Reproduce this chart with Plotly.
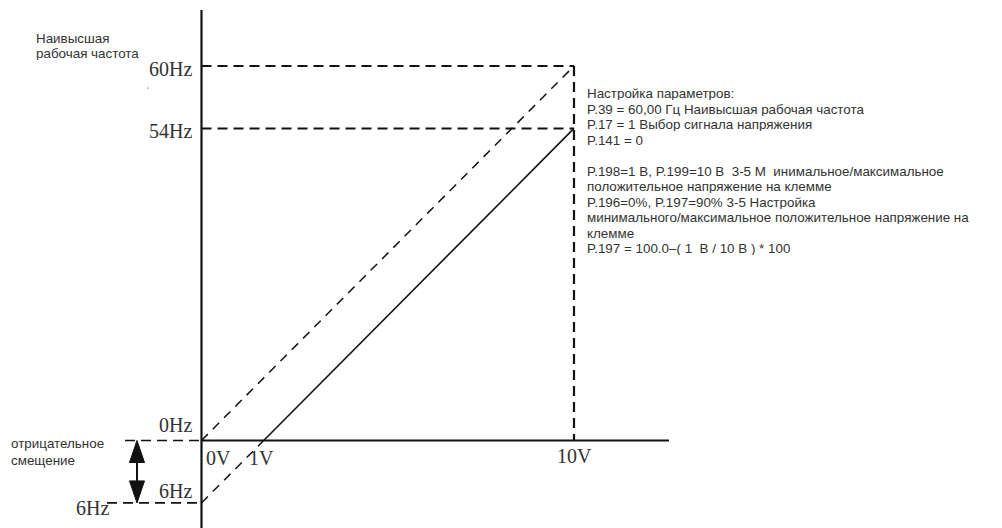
import plotly.graph_objects as go

# ---- values (drawn positions) ----
volt_labels = ["0V", "1V", "10V"]
volt_pos = [0.0, 1.67, 10.0]          # where the V marks sit on the schematic axis
freq_labels = ["60Hz", "54Hz", "0Hz", "6Hz"]
freq_pos = [60.0, 50.0, 0.0, -10.0]   # where the Hz levels sit on the schematic axis

# solid characteristic: 1V -> 54Hz at 10V
solid_x = [1.67, 10.0]
solid_y = [0.0, 50.0]
# dashed characteristic without offset: 0V/0Hz -> 10V/60Hz
dash_up_x = [0.0, 10.0]
dash_up_y = [0.0, 60.0]
# dashed extension below zero: 0V/-6Hz -> 1V/0Hz
dash_low_x = [0.0, 1.67]
dash_low_y = [-10.0, 0.0]

left_title = ["Наивысшая", "рабочая частота"]
offset_title = ["отрицательное", "смещение"]
params_lines = [
    "Настройка параметров:",
    "P.39 = 60,00 Гц Наивысшая рабочая частота",
    "P.17 = 1 Выбор сигнала напряжения",
    "P.141 = 0",
    "",
    "P.198=1 В, P.199=10 В  3-5 М  инимальное/максимальное",
    "положительное напряжение на клемме",
    "P.196=0%, P.197=90% 3-5 Настройка",
    "минимального/максимальное положительное напряжение на",
    "клемме",
    "P.197 = 100.0–( 1  В / 10 В ) * 100",
]

# ---- layout geometry (pixels of the 1002x528 window) ----
PAGE_OFF = 8            # default body margin of the html page
W, H = 1002 - PAGE_OFF, 528 - PAGE_OFF
X0, XS = 201.5, 37.25   # window px of 0V, px per V
Y0, YS = 440.5, 6.242   # window px of 0Hz, px per Hz


def vx(px):
    return (px - X0) / XS


def vy(py):
    return (Y0 - py) / YS


SERIF = "Liberation Serif, Times New Roman, serif"
SANS = "Liberation Sans, Arial, sans-serif"
INK = "#111111"
TXT = "#333333"

fig = go.Figure()


def line(xs, ys, width=2.0, dash=None):
    fig.add_trace(go.Scatter(x=xs, y=ys, mode="lines", hoverinfo="skip",
                             line=dict(color=INK, width=width, dash=dash),
                             showlegend=False))


DASH = "10px,6px"
# axes
line([0, 0], [vy(10), vy(540)], width=2.2)
line([0, vx(669)], [0, 0], width=1.8)
# horizontal guide lines at 60Hz and 54Hz, vertical at 10V
line([0, volt_pos[2]], [freq_pos[0]] * 2, width=2, dash=DASH)
line([0, volt_pos[2]], [freq_pos[1]] * 2, width=2, dash=DASH)
line([volt_pos[2]] * 2, [freq_pos[0], 0], width=2.2, dash=DASH)
# characteristics
line(dash_up_x, dash_up_y, width=1.5, dash="9px,7px")
line(dash_low_x, dash_low_y, width=1.5, dash="9px,7px")
line(solid_x, solid_y, width=1.6)
# left offset guides
line([vx(125), 0], [0, 0], width=1.6, dash=DASH)
line([vx(107), 0], [freq_pos[3]] * 2, width=1.6, dash=DASH)

# double arrow for the negative offset
ax = vx(137)
line([ax, ax], [vy(455), vy(487)], width=2)
hw, hl = 7.5 / XS, 22 / YS
for tip, d in ((0.0, -1), (freq_pos[3], 1)):
    fig.add_trace(go.Scatter(
        x=[ax, ax - hw, ax + hw, ax], y=[tip, tip + d * hl, tip + d * hl, tip],
        mode="lines", fill="toself", fillcolor=INK, line=dict(color=INK, width=1),
        hoverinfo="skip", showlegend=False))

ann = []


def txt(x, y, s, size, font, xanchor="left", yanchor="middle", color=TXT,
        height=None):
    a = dict(x=x, y=y, xref="x", yref="y", text=s, showarrow=False,
             xanchor=xanchor, yanchor=yanchor,
             font=dict(family=font, size=size, color=color))
    if height:
        a["height"] = height
    ann.append(a)


FS = 20
# Hz labels
txt(vx(194), vy(68.5), freq_labels[0], FS, SERIF, "right")
txt(vx(194), vy(131), freq_labels[1], FS, SERIF, "right")
txt(vx(194), vy(425), freq_labels[2], FS, SERIF, "right")
txt(vx(194), vy(491), freq_labels[3], FS, SERIF, "right")
txt(vx(111), vy(508), freq_labels[3], FS, SERIF, "right")
# V labels
txt(vx(204), vy(458), volt_labels[0], FS, SERIF, "left")
txt(vx(247), vy(458), volt_labels[1], FS, SERIF, "left")
txt(volt_pos[2], vy(456), volt_labels[2], FS, SERIF, "center")

# sans text blocks
SS = 13.4
for i, s in enumerate(left_title):
    txt(vx(34), vy(38 + 15 * i), s, SS, SANS, height=14)
for i, s in enumerate(offset_title):
    txt(vx(9), vy(443 + 17 * i), s, SS, SANS, height=15)
for i, s in enumerate(params_lines):
    if s:
        txt(vx(585), vy(93 + 15.5 * i), s, SS, SANS, height=14)
# small stray mark in the original
txt(vx(147), vy(91), "ˈ", 10, SANS, "center", height=8)

fig.update_layout(
    width=W, height=H, margin=dict(l=0, r=0, t=0, b=0),
    paper_bgcolor="white", plot_bgcolor="white",
    xaxis=dict(range=[vx(PAGE_OFF), vx(PAGE_OFF + W)], visible=False, fixedrange=True),
    yaxis=dict(range=[vy(PAGE_OFF + H), vy(PAGE_OFF)], visible=False, fixedrange=True),
    annotations=ann, showlegend=False,
)
fig.write_html("out.html")
